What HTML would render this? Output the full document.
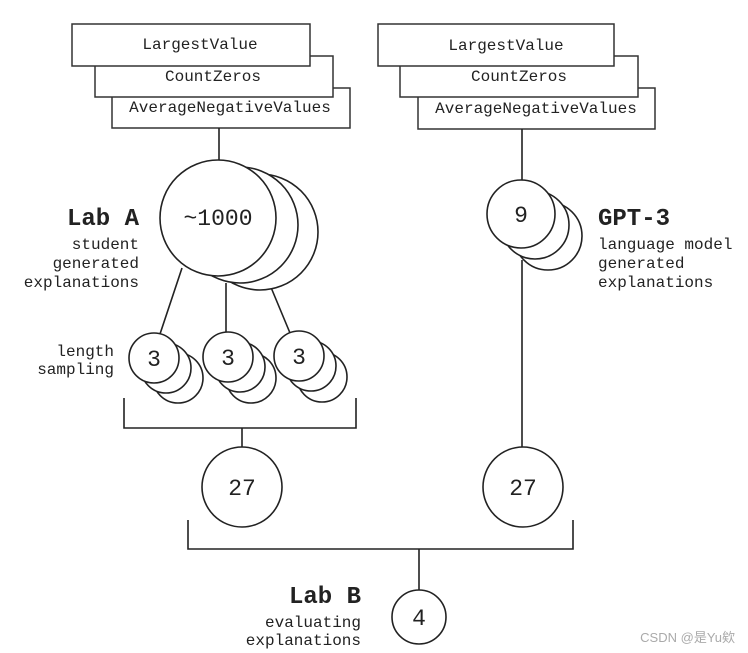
<!DOCTYPE html>
<html><head><style>
html,body{margin:0;padding:0;background:#fff;}
svg{display:block;}
text{font-family:"Liberation Mono",monospace;fill:#222;}
</style></head><body>
<svg width="748" height="653" viewBox="0 0 748 653" xmlns="http://www.w3.org/2000/svg">
<g fill="#fff" stroke="#333" stroke-width="1.5">
<rect x="112" y="88" width="238" height="40"/>
<rect x="95" y="56" width="238" height="41"/>
<rect x="72" y="24" width="238" height="42"/>
<rect x="418" y="88" width="237" height="41"/>
<rect x="400" y="56" width="238" height="41"/>
<rect x="378" y="24" width="236" height="42"/>
</g>
<g font-size="16" text-anchor="middle">
<text x="200" y="49">LargestValue</text>
<text x="213" y="81">CountZeros</text>
<text x="230" y="112">AverageNegativeValues</text>
<text x="506" y="50">LargestValue</text>
<text x="519" y="81">CountZeros</text>
<text x="536" y="113">AverageNegativeValues</text>
</g>
<g stroke="#222" stroke-width="1.6" fill="none">
<line x1="219" y1="128" x2="219" y2="162"/>
<line x1="522" y1="129" x2="522" y2="180"/>
<line x1="522" y1="260" x2="522" y2="447"/>
<line x1="182" y1="268" x2="160" y2="334"/>
<line x1="226" y1="283" x2="226" y2="335"/>
<line x1="270" y1="285" x2="290" y2="333"/>
<polyline points="124,398 124,428 356,428 356,398"/>
<line x1="242" y1="428" x2="242" y2="447"/>
<polyline points="188,520 188,549 573,549 573,520"/>
<line x1="419" y1="549" x2="419" y2="590"/>
</g>
<g fill="#fff" stroke="#222" stroke-width="1.6">
<circle cx="260" cy="232" r="58"/>
<circle cx="240" cy="225" r="58"/>
<circle cx="218" cy="218" r="58"/>
<circle cx="548" cy="236" r="34"/>
<circle cx="535" cy="225" r="34"/>
<circle cx="521" cy="214" r="34"/>
<circle cx="178" cy="378" r="25"/>
<circle cx="166" cy="368" r="25"/>
<circle cx="154" cy="358" r="25"/>
<circle cx="251" cy="378" r="25"/>
<circle cx="240" cy="367" r="25"/>
<circle cx="228" cy="357" r="25"/>
<circle cx="322" cy="377" r="25"/>
<circle cx="311" cy="366" r="25"/>
<circle cx="299" cy="356" r="25"/>
<circle cx="242" cy="487" r="40"/>
<circle cx="523" cy="487" r="40"/>
<circle cx="419" cy="617" r="27"/>
</g>
<g font-size="23" text-anchor="middle">
<text x="218" y="225">~1000</text>
<text x="521" y="222">9</text>
<text x="154" y="366">3</text>
<text x="228" y="365">3</text>
<text x="299" y="364">3</text>
<text x="242" y="495">27</text>
<text x="523" y="495">27</text>
<text x="419" y="625">4</text>
</g>
<g font-size="24" font-weight="bold">
<text x="139" y="225" text-anchor="end">Lab A</text>
<text x="598" y="225">GPT-3</text>
<text x="361" y="603" text-anchor="end">Lab B</text>
</g>
<g font-size="16">
<g text-anchor="end">
<text x="139" y="249">student</text>
<text x="139" y="268">generated</text>
<text x="139" y="287">explanations</text>
<text x="114" y="356">length</text>
<text x="114" y="374">sampling</text>
<text x="361" y="627">evaluating</text>
<text x="361" y="645">explanations</text>
</g>
<text x="598" y="249">language model</text>
<text x="598" y="268">generated</text>
<text x="598" y="287">explanations</text>
</g>
<text x="735" y="642" text-anchor="end" font-size="13" style="font-family:'Liberation Sans','Noto Sans CJK SC',sans-serif;fill:#aaa">CSDN @是Yu欸</text>
</svg>
</body></html>
